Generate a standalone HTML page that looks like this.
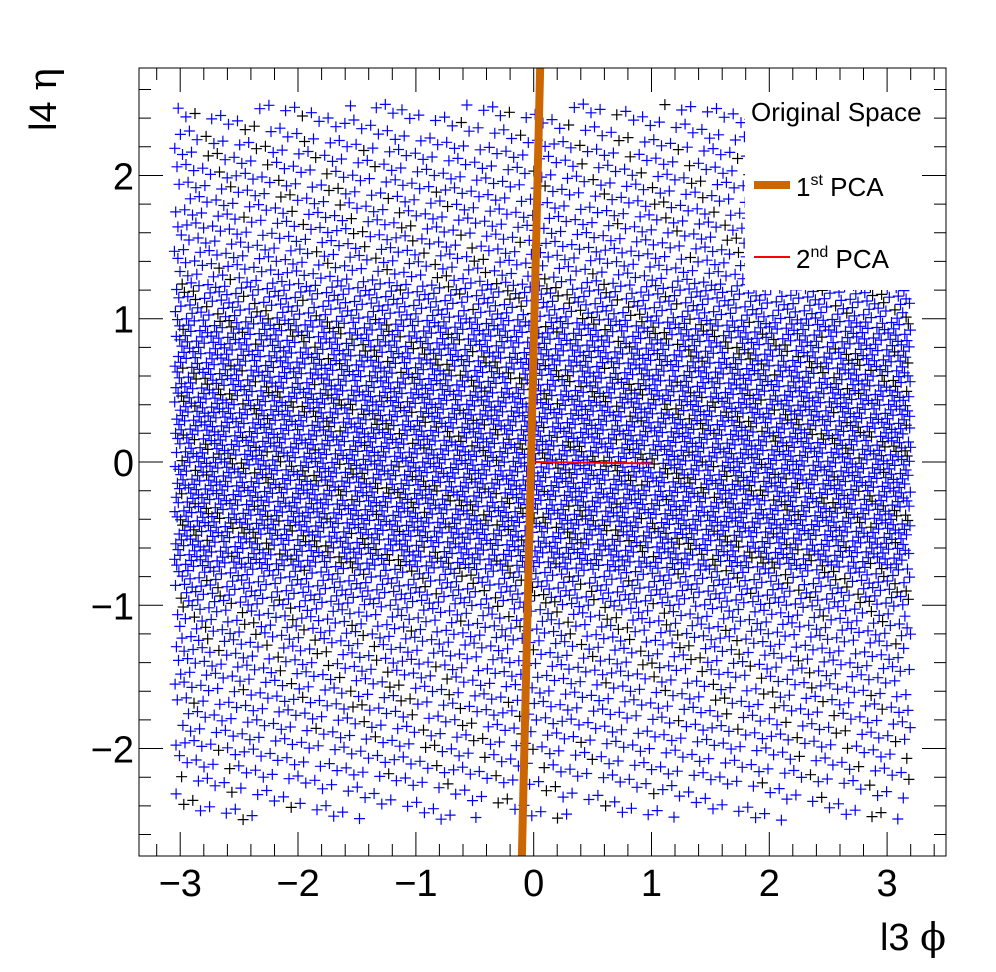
<!DOCTYPE html>
<html><head><meta charset="utf-8"><style>
body{margin:0;background:#fff}
svg{display:block;font-family:"Liberation Sans",sans-serif}
</style></head><body>
<svg id="chart" width="996" height="972" viewBox="0 0 996 972" xmlns="http://www.w3.org/2000/svg">
<rect width="996" height="972" fill="#fff"/>
<g id="pts"></g>
<g id="lines"></g>
<rect x="745" y="69" width="200" height="221" fill="#fff"/>
<g id="axes"></g>
<text x="751" y="121" font-size="26">Original Space</text>
<line x1="754" y1="185" x2="790" y2="185" stroke="#cc6600" stroke-width="8"/>
<text x="796" y="196" font-size="26">1<tspan font-size="16" dy="-11">st</tspan><tspan dy="11"> PCA</tspan></text>
<line x1="754" y1="257" x2="790" y2="257" stroke="#ff0000" stroke-width="2"/>
<text x="796" y="268" font-size="26">2<tspan font-size="16" dy="-11">nd</tspan><tspan dy="11"> PCA</tspan></text>
<text x="946" y="950" font-size="38" text-anchor="end">l3 <tspan font-family="DejaVu Serif, serif">ϕ</tspan></text>
<text transform="translate(56,68) rotate(-90)" font-size="38" text-anchor="end">l4 <tspan font-family="DejaVu Serif, serif">η</tspan></text>
</svg>
<script>
// data
const yBinEdgesStart = -2.5;
const yBinWidth = 0.25;
const yBinCounts = [100,150,180,200,230,270,380,540,590,600,600,590,540,500,380,240,210,190,170,120];
const xDataMin = -3.05, xDataMax = 3.2;
const pca1 = [[-0.1,-2.75],[0.055,2.75]];
const pca2 = [[0,0],[1,-0.01]];
const xTicks = [-3,-2,-1,0,1,2,3];
const yTicks = [-2,-1,0,1,2];
const xTickLabels = ["\u22123","\u22122","\u22121","0","1","2","3"];
const yTickLabels = ["\u22122","\u22121","0","1","2"];

const L=139,R=946,T=68,B=856;
const X0=-3.35,X1=3.5,Y0=-2.75,Y1=2.75;
const sx=v=>L+(v-X0)/(X1-X0)*(R-L);
const sy=v=>B-(v-Y0)/(Y1-Y0)*(B-T);
const NS="http://www.w3.org/2000/svg";
function mk(tag,attrs,parent){const e=document.createElementNS(NS,tag);for(const k in attrs)e.setAttribute(k,attrs[k]);parent.appendChild(e);return e;}
const frac=v=>v-Math.floor(v);

const total=yBinCounts.reduce((a,b)=>a+b,0);
const cum=[0];yBinCounts.forEach(c=>cum.push(cum[cum.length-1]+c/total));
function yFromU(v){for(let i=0;i<yBinCounts.length;i++){if(v<cum[i+1]){return yBinEdgesStart+yBinWidth*(i+(v-cum[i])/(cum[i+1]-cum[i]));}}return yBinEdgesStart+yBinWidth*yBinCounts.length;}
let dBlue="",dBlack="";
const a1=0.7548776662,a2=0.5698402910;
for(let j=0;j<total;j++){
  const x=xDataMin+(xDataMax-xDataMin)*frac(0.5+j*a1);
  const y=yFromU(frac(0.5+j*a2));
  const px=+sx(x).toFixed(1),py=+sy(y).toFixed(1);
  const s=`M${(px-5.5).toFixed(1)} ${py}h11M${px} ${(py-5.5).toFixed(1)}v11`;
  if(frac(j*0.41421356*7.3)<0.13)dBlack+=s;else dBlue+=s;
}
const pg=document.getElementById('pts');
const p1=mk('path',{d:dBlack,stroke:'#000','stroke-width':1.2,fill:'none'},pg);


const p2=mk('path',{d:dBlue,stroke:'#0000ff','stroke-width':1.2,fill:'none'},pg);



const lg=document.getElementById('lines');
const l2=mk('line',{x1:sx(pca2[0][0]),y1:sy(pca2[0][1]),x2:sx(pca2[1][0]),y2:sy(pca2[1][1]),stroke:'#ff0000','stroke-width':2},lg);


const l1=mk('line',{x1:sx(pca1[0][0]),y1:sy(pca1[0][1]),x2:sx(pca1[1][0]),y2:sy(pca1[1][1]),stroke:'#cc6600','stroke-width':8},lg);



const ag=document.getElementById('axes');
const fr=mk('rect',{x:L,y:T,width:R-L,height:B-T,fill:'none',stroke:'#000','stroke-width':1},ag);


let td="";
for(let v=-3.2;v<=3.41;v+=0.2){const x=sx(v).toFixed(1);const maj=Math.abs(v-Math.round(v))<1e-6;const len=maj?24:12;td+=`M${x} ${B}v${-len}M${x} ${T}v${len}`;}
for(let v=-2.6;v<=2.61;v+=0.2){const y=sy(v).toFixed(1);const maj=Math.abs(v-Math.round(v))<1e-6;const len=maj?24:12;td+=`M${L} ${y}h${len}M${R} ${y}h${-len}`;}
const tk=mk('path',{d:td,stroke:'#000','stroke-width':1,fill:'none'},ag);


xTicks.forEach((v,i)=>{const t=mk('text',{x:sx(v),y:896,'font-size':38,'text-anchor':'middle'},ag);t.textContent=xTickLabels[i];

});
yTicks.forEach((v,i)=>{const t=mk('text',{x:134,y:sy(v)+14,'font-size':38,'text-anchor':'end'},ag);t.textContent=yTickLabels[i];

});
</script>
</body></html>
